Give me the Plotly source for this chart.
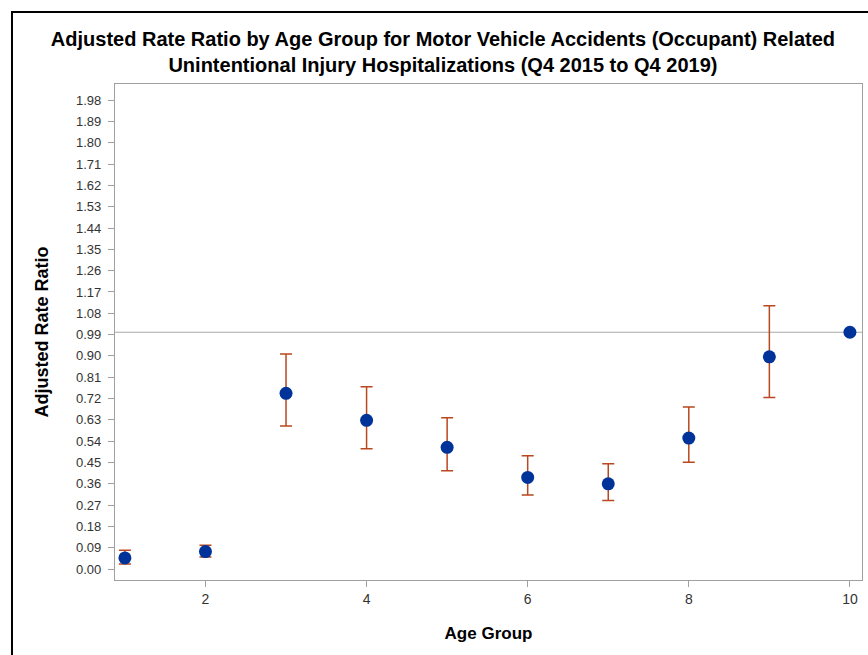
import plotly.graph_objects as go

# Data
age_groups = [1, 2, 3, 4, 5, 6, 7, 8, 9, 10]
rate_ratio = [0.047, 0.074, 0.742, 0.628, 0.514, 0.387, 0.360, 0.553, 0.896, 1.0]
lower_ci = [0.022, 0.051, 0.604, 0.508, 0.415, 0.313, 0.290, 0.451, 0.724, None]
upper_ci = [0.080, 0.101, 0.908, 0.770, 0.639, 0.479, 0.445, 0.684, 1.112, None]
y_tick_vals = [0.00, 0.09, 0.18, 0.27, 0.36, 0.45, 0.54, 0.63, 0.72, 0.81, 0.90, 0.99,
               1.08, 1.17, 1.26, 1.35, 1.44, 1.53, 1.62, 1.71, 1.80, 1.89, 1.98]
x_tick_vals = [2, 4, 6, 8, 10]
reference_value = 1.0

err_plus = [(u - v) if u is not None else 0 for u, v in zip(upper_ci, rate_ratio)]
err_minus = [(v - l) if l is not None else 0 for l, v in zip(lower_ci, rate_ratio)]

fig = go.Figure()
fig.add_trace(go.Scatter(
    x=age_groups, y=rate_ratio, mode="markers",
    marker=dict(color="#003399", size=13, line=dict(width=0)),
    error_y=dict(type="data", symmetric=False, array=err_plus, arrayminus=err_minus,
                 color="#B9471F", thickness=1.5, width=6),
    showlegend=False,
))

fig.add_shape(type="line", xref="paper", x0=0, x1=1, yref="y",
              y0=reference_value, y1=reference_value,
              line=dict(color="#A8A8A8", width=1.2), layer="below")

# outer black frame
fig.add_shape(type="rect", xref="paper", yref="paper",
              x0=-0.1379, x1=1.2, y0=-0.3, y1=1.145,
              line=dict(color="black", width=2))

font_main = "Liberation Sans, Arial, sans-serif"

fig.update_layout(
    width=868, height=655,
    margin=dict(l=115, r=6, t=84, b=75),
    paper_bgcolor="white", plot_bgcolor="white",
    title=dict(
        text="Adjusted Rate Ratio by Age Group for Motor Vehicle Accidents (Occupant) Related<br>Unintentional Injury Hospitalizations (Q4 2015 to Q4 2019)",
        x=0.439, xref="paper", xanchor="center", y=0.930, yanchor="top",
        font=dict(family=font_main, size=20, color="black", weight="bold"),
    ),
    xaxis=dict(
        range=[0.877, 10.15], tickvals=x_tick_vals, ticks="outside", ticklen=6,
        tickcolor="#A0A0A0", showline=True, linecolor="#A0A0A0", linewidth=1.2,
        mirror=True, showgrid=False, zeroline=False,
        tickfont=dict(family=font_main, size=14, color="#333333"),
        title=dict(text="Age Group", font=dict(family=font_main, size=17, color="black", weight="bold"),
                   standoff=21),
    ),
    yaxis=dict(
        range=[-0.046, 2.048], tickvals=y_tick_vals,
        ticktext=[f"{v:.2f}" for v in y_tick_vals], ticks="outside", ticklen=6,
        ticklabelstandoff=4,
        tickcolor="#A0A0A0", showline=True, linecolor="#A0A0A0", linewidth=1.2,
        mirror=True, showgrid=False, zeroline=False,
        tickfont=dict(family=font_main, size=13, color="#333333"),
        title=dict(text="Adjusted Rate Ratio", font=dict(family=font_main, size=18, color="black", weight="bold"),
                   standoff=22),
    ),
)

fig.write_html("out.html", config={"displayModeBar": False},
               post_script="document.body.style.margin='0';")
